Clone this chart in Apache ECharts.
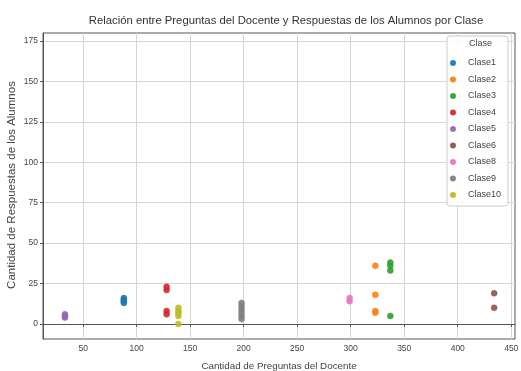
<!DOCTYPE html>
<html>
<head>
<meta charset="utf-8">
<script src="https://cdn.jsdelivr.net/npm/echarts@6/dist/echarts.min.js"></script>
<style>
  html, body { margin: 0; padding: 0; background: #fff; }
  #chart { width: 521px; height: 371px; }
</style>
</head>
<body>
<div id="chart"></div>
<script>
// Clases y sus datos (preguntas del docente -> respuestas de alumnos)
const clases = ['Clase1', 'Clase2', 'Clase3', 'Clase4', 'Clase5', 'Clase6', 'Clase8', 'Clase9', 'Clase10']
const preguntas = [88, 323, 337, 128, 33, 434, 299, 198, 139]
const respuestas = {
  Clase1: [13, 14, 15, 16],
  Clase2: [36, 18, 8, 7],
  Clase3: [38, 36, 33, 5],
  Clase4: [23, 21, 8, 6],
  Clase5: [4, 5, 6],
  Clase6: [19, 10],
  Clase8: [14, 16],
  Clase9: [3, 5, 7, 9, 11, 13],
  Clase10: [0, 5, 7, 8, 10],
}
const colores = ['#1f77b4', '#ff7f0e', '#2ca02c', '#d62728', '#9467bd', '#8c564b', '#e377c2', '#7f7f7f', '#bcbd22']
const xTicks = [50, 100, 150, 200, 250, 300, 350, 400, 450]
const yTicks = [0, 25, 50, 75, 100, 125, 150, 175]

const font = 'Liberation Sans, Arial, sans-serif'
const chart = echarts.init(document.getElementById('chart'))

chart.setOption({
  animation: false,
  color: colores,
  textStyle: { fontFamily: font },
  title: {
    text: 'Relación entre Preguntas del Docente y Respuestas de los Alumnos por Clase',
    left: 281,
    top: 10,
    textAlign: 'center',
    textStyle: { fontSize: 11.3, fontWeight: 'normal', color: '#333', fontFamily: font },
  },
  graphic: [{
    type: 'text',
    left: 469,
    top: 39,
    z: 100,
    style: { text: 'Clase', fontSize: 9, fill: '#444', fontFamily: font },
  }, {
    // y axis title
    type: 'text',
    x: 12,
    y: 185,
    rotation: Math.PI / 2,
    style: {
      text: 'Cantidad de Respuestas de los Alumnos',
      fontSize: 11.5,
      fill: '#444',
      fontFamily: font,
      align: 'center',
      verticalAlign: 'middle',
    },
  }],
  legend: {
    orient: 'vertical',
    left: 447,
    top: 36,
    padding: [22, 7, 6, 3],
    itemWidth: 20,
    itemHeight: 4,
    itemGap: 6.5,
    icon: 'circle',
    backgroundColor: 'rgba(255,255,255,0.85)',
    borderColor: '#ccc',
    borderWidth: 1,
    borderRadius: 3,
    textStyle: { fontSize: 9, lineHeight: 10, color: '#444', fontFamily: font },
    data: clases,
  },
  grid: {
    show: true,
    left: 43,
    right: 6,
    top: 33,
    bottom: 32,
    outerBoundsMode: 'none',
    containLabel: false,
    borderColor: '#555',
    borderWidth: 1,
  },
  xAxis: {
    type: 'value',
    min: 12.5,
    max: 453.5,
    name: 'Cantidad de Preguntas del Docente',
    nameLocation: 'middle',
    nameGap: 22,
    nameMoveOverlap: false,
    nameTextStyle: { fontSize: 9.8, color: '#444' },
    axisLine: { lineStyle: { color: '#555' } },
    axisTick: { customValues: xTicks, length: 3, lineStyle: { color: '#555' } },
    axisLabel: { customValues: xTicks, fontSize: 8.5, color: '#444', margin: 5 },
    splitLine: { show: true, lineStyle: { color: '#d6d6d6', width: 1 } },
  },
  yAxis: {
    type: 'value',
    min: -9.3,
    max: 180,
    axisLine: { show: true, lineStyle: { color: '#555' } },
    axisTick: { show: true, customValues: yTicks, length: 3, lineStyle: { color: '#555' } },
    axisLabel: { customValues: yTicks, fontSize: 8.5, color: '#444', margin: 5 },
    splitLine: { show: true, lineStyle: { color: '#d6d6d6', width: 1 } },
  },
  series: clases.map((c, i) => ({
    name: c,
    type: 'scatter',
    symbolSize: 6,
    itemStyle: { color: colores[i], opacity: 0.9, borderColor: colores[i], borderWidth: 0.5 },
    data: respuestas[c].map((v) => [preguntas[i], v]),
  })),
})
</script>
</body>
</html>
